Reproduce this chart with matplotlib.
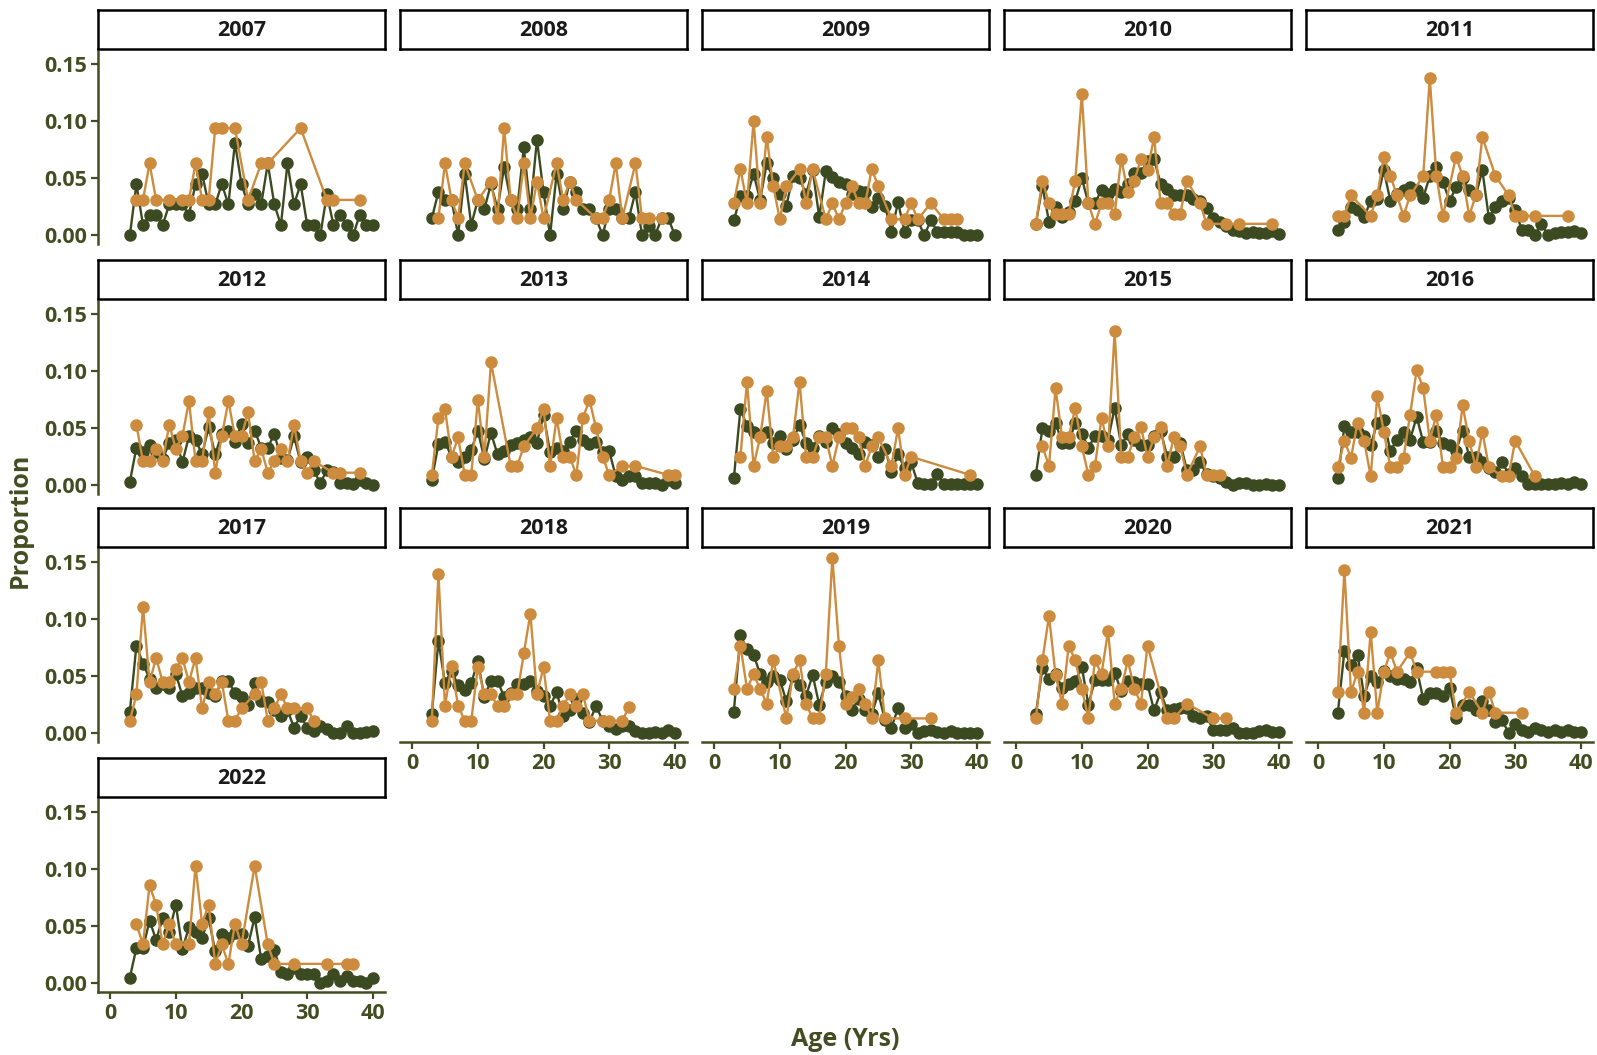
import matplotlib
matplotlib.use('Agg')
import matplotlib.pyplot as plt

# ages 3..40 for the green series; orange series only where fish were aged
ages = list(range(3, 41))
years = list(range(2007, 2023))

g2007 = [0.000, 0.045, 0.009, 0.018, 0.018, 0.009, 0.027, 0.027, 0.027, 0.018, 0.045, 0.054, 0.027, 0.027, 0.045, 0.027, 0.081, 0.045, 0.027, 0.036,
         0.027, 0.063, 0.027, 0.009, 0.063, 0.027, 0.045, 0.009, 0.009, 0.000, 0.036, 0.009, 0.018, 0.009, 0.000, 0.018, 0.009, 0.009]
o2007_x = [4, 5, 6, 7, 9, 11, 12, 13, 14, 15, 16, 17, 19, 21, 23, 24, 29, 33, 34, 38]
o2007 = [0.031, 0.031, 0.063, 0.031, 0.031, 0.031, 0.031, 0.063, 0.031, 0.031, 0.094, 0.094, 0.094, 0.031, 0.063, 0.063, 0.094, 0.031, 0.031, 0.031]

g2008 = [0.015, 0.038, 0.031, 0.031, 0.000, 0.054, 0.009, 0.031, 0.023, 0.045, 0.023, 0.060, 0.031, 0.023, 0.077, 0.023, 0.084, 0.038, 0.000, 0.054,
         0.023, 0.047, 0.038, 0.023, 0.023, 0.015, 0.000, 0.023, 0.023, 0.015, 0.015, 0.038, 0.000, 0.008, 0.000, 0.015, 0.015, 0.000]
o2008_x = [4, 5, 6, 7, 8, 10, 12, 13, 14, 15, 16, 17, 18, 19, 20, 22, 23, 24, 25, 28, 29, 30, 31, 32, 34, 35, 36, 38]
o2008 = [0.015, 0.063, 0.031, 0.015, 0.063, 0.031, 0.047, 0.015, 0.094, 0.031, 0.015, 0.063, 0.015, 0.047, 0.015, 0.063, 0.031, 0.047, 0.031, 0.015,
         0.015, 0.031, 0.063, 0.015, 0.063, 0.015, 0.015, 0.015]

g2009 = [0.013, 0.034, 0.034, 0.054, 0.031, 0.063, 0.050, 0.036, 0.026, 0.052, 0.050, 0.036, 0.057, 0.016, 0.056, 0.051, 0.047, 0.045, 0.036, 0.039,
         0.038, 0.025, 0.033, 0.026, 0.003, 0.029, 0.003, 0.013, 0.013, 0.000, 0.013, 0.003, 0.003, 0.003, 0.003, 0.000, 0.000, 0.000]
o2009_x = [3, 4, 5, 6, 7, 8, 9, 10, 11, 13, 14, 15, 17, 18, 19, 20, 21, 22, 23, 24, 25, 27, 29, 30, 31, 33, 35, 36, 37]
o2009 = [0.028, 0.058, 0.028, 0.100, 0.028, 0.086, 0.043, 0.014, 0.043, 0.058, 0.028, 0.058, 0.014, 0.028, 0.014, 0.028, 0.043, 0.028, 0.028, 0.058,
         0.043, 0.014, 0.014, 0.028, 0.014, 0.028, 0.014, 0.014, 0.014]

g2010 = [0.010, 0.043, 0.012, 0.025, 0.016, 0.020, 0.030, 0.050, 0.028, 0.028, 0.040, 0.036, 0.041, 0.038, 0.045, 0.055, 0.055, 0.065, 0.067, 0.045,
         0.041, 0.035, 0.035, 0.035, 0.032, 0.030, 0.024, 0.015, 0.012, 0.008, 0.005, 0.004, 0.002, 0.003, 0.002, 0.002, 0.004, 0.001]
o2010_x = [3, 4, 5, 6, 7, 8, 9, 10, 11, 12, 13, 14, 15, 16, 17, 18, 19, 20, 21, 22, 23, 24, 25, 26, 28, 29, 32, 34, 39]
o2010 = [0.010, 0.048, 0.028, 0.019, 0.019, 0.019, 0.048, 0.124, 0.028, 0.010, 0.028, 0.028, 0.019, 0.067, 0.038, 0.048, 0.067, 0.057, 0.086, 0.028,
         0.028, 0.019, 0.019, 0.048, 0.028, 0.010, 0.010, 0.010, 0.010]

g2011 = [0.005, 0.012, 0.025, 0.022, 0.016, 0.030, 0.032, 0.057, 0.030, 0.036, 0.040, 0.042, 0.040, 0.033, 0.052, 0.060, 0.047, 0.030, 0.042, 0.050,
         0.040, 0.035, 0.057, 0.015, 0.025, 0.030, 0.033, 0.022, 0.005, 0.005, 0.000, 0.010, 0.000, 0.002, 0.003, 0.003, 0.004, 0.002]
o2011_x = [3, 4, 5, 8, 9, 10, 11, 12, 13, 14, 16, 17, 18, 19, 21, 22, 23, 24, 25, 27, 29, 30, 31, 33, 38]
o2011 = [0.017, 0.017, 0.035, 0.017, 0.035, 0.069, 0.052, 0.035, 0.017, 0.035, 0.052, 0.138, 0.052, 0.017, 0.069, 0.052, 0.017, 0.035, 0.086, 0.052,
         0.035, 0.017, 0.017, 0.017, 0.017]

g2012 = [0.003, 0.033, 0.029, 0.035, 0.029, 0.023, 0.037, 0.040, 0.020, 0.043, 0.040, 0.027, 0.051, 0.027, 0.045, 0.048, 0.038, 0.054, 0.037, 0.048,
         0.033, 0.033, 0.045, 0.024, 0.022, 0.043, 0.020, 0.025, 0.013, 0.002, 0.013, 0.012, 0.002, 0.002, 0.001, 0.005, 0.002, 0.000]
o2012_x = [4, 5, 6, 7, 8, 9, 10, 11, 12, 13, 14, 15, 16, 17, 18, 19, 20, 21, 22, 23, 24, 25, 26, 27, 28, 29, 30, 31, 34, 35, 38]
o2012 = [0.053, 0.021, 0.021, 0.032, 0.021, 0.053, 0.032, 0.043, 0.074, 0.021, 0.021, 0.064, 0.011, 0.043, 0.074, 0.043, 0.043, 0.064, 0.021, 0.032,
         0.011, 0.021, 0.032, 0.021, 0.053, 0.021, 0.011, 0.021, 0.011, 0.011, 0.011]

g2013 = [0.005, 0.036, 0.038, 0.025, 0.020, 0.025, 0.031, 0.048, 0.023, 0.046, 0.027, 0.030, 0.035, 0.037, 0.040, 0.042, 0.037, 0.062, 0.029, 0.033,
         0.030, 0.038, 0.048, 0.040, 0.036, 0.038, 0.029, 0.030, 0.008, 0.005, 0.008, 0.008, 0.002, 0.002, 0.002, 0.000, 0.005, 0.002]
o2013_x = [3, 4, 5, 6, 7, 8, 9, 10, 11, 12, 15, 16, 17, 19, 20, 21, 22, 23, 24, 25, 26, 27, 28, 29, 30, 32, 34, 39, 40]
o2013 = [0.009, 0.059, 0.067, 0.025, 0.042, 0.009, 0.009, 0.075, 0.025, 0.108, 0.017, 0.017, 0.034, 0.050, 0.067, 0.017, 0.059, 0.025, 0.025, 0.009,
         0.059, 0.075, 0.050, 0.025, 0.009, 0.017, 0.017, 0.009, 0.009]

g2014 = [0.006, 0.067, 0.052, 0.047, 0.043, 0.047, 0.037, 0.043, 0.032, 0.040, 0.053, 0.037, 0.033, 0.043, 0.038, 0.050, 0.045, 0.037, 0.033, 0.027,
         0.038, 0.035, 0.025, 0.032, 0.012, 0.027, 0.015, 0.020, 0.002, 0.001, 0.001, 0.010, 0.001, 0.001, 0.001, 0.001, 0.001, 0.001]
o2014_x = [4, 5, 6, 7, 8, 9, 10, 11, 12, 13, 14, 15, 16, 17, 18, 19, 20, 21, 22, 23, 24, 25, 27, 28, 29, 30, 39]
o2014 = [0.025, 0.091, 0.017, 0.042, 0.083, 0.025, 0.034, 0.034, 0.042, 0.091, 0.025, 0.025, 0.042, 0.042, 0.017, 0.042, 0.050, 0.050, 0.042, 0.017,
         0.034, 0.042, 0.017, 0.050, 0.009, 0.025, 0.009]

g2015 = [0.009, 0.050, 0.048, 0.055, 0.037, 0.037, 0.055, 0.045, 0.033, 0.043, 0.043, 0.040, 0.068, 0.035, 0.045, 0.040, 0.035, 0.035, 0.043, 0.048,
         0.025, 0.025, 0.037, 0.013, 0.013, 0.020, 0.010, 0.008, 0.006, 0.003, 0.000, 0.002, 0.002, 0.000, 0.000, 0.001, 0.000, 0.000]
o2015_x = [4, 5, 6, 7, 8, 9, 10, 11, 12, 13, 14, 15, 16, 17, 18, 19, 20, 21, 22, 23, 24, 25, 26, 28, 29, 30, 31]
o2015 = [0.034, 0.017, 0.085, 0.042, 0.042, 0.068, 0.034, 0.009, 0.017, 0.059, 0.034, 0.135, 0.025, 0.025, 0.042, 0.051, 0.025, 0.042, 0.051, 0.017,
         0.042, 0.034, 0.009, 0.034, 0.009, 0.009, 0.009]

g2016 = [0.006, 0.052, 0.047, 0.047, 0.043, 0.035, 0.055, 0.057, 0.030, 0.040, 0.047, 0.040, 0.060, 0.038, 0.038, 0.048, 0.037, 0.035, 0.030, 0.048,
         0.025, 0.025, 0.020, 0.015, 0.012, 0.020, 0.010, 0.015, 0.008, 0.001, 0.001, 0.001, 0.001, 0.001, 0.002, 0.001, 0.003, 0.001]
o2016_x = [3, 4, 5, 6, 7, 8, 9, 10, 11, 12, 13, 14, 15, 16, 17, 18, 19, 20, 21, 22, 23, 24, 25, 26, 28, 29, 30, 33]
o2016 = [0.016, 0.039, 0.024, 0.055, 0.039, 0.008, 0.078, 0.047, 0.016, 0.016, 0.024, 0.062, 0.101, 0.085, 0.039, 0.062, 0.016, 0.016, 0.024, 0.070,
         0.039, 0.016, 0.047, 0.016, 0.008, 0.008, 0.039, 0.008]

g2017 = [0.019, 0.077, 0.061, 0.048, 0.040, 0.043, 0.040, 0.052, 0.033, 0.035, 0.040, 0.040, 0.035, 0.033, 0.046, 0.046, 0.035, 0.032, 0.025, 0.044,
         0.028, 0.027, 0.020, 0.015, 0.020, 0.005, 0.015, 0.005, 0.002, 0.006, 0.004, 0.000, 0.000, 0.006, 0.000, 0.000, 0.001, 0.002]
o2017_x = [3, 4, 5, 6, 7, 8, 9, 10, 11, 12, 13, 14, 15, 16, 17, 18, 19, 20, 22, 23, 24, 25, 26, 27, 28, 30, 31]
o2017 = [0.011, 0.034, 0.111, 0.045, 0.066, 0.045, 0.045, 0.056, 0.066, 0.045, 0.066, 0.022, 0.045, 0.034, 0.045, 0.011, 0.011, 0.022, 0.034, 0.045,
         0.011, 0.022, 0.034, 0.022, 0.022, 0.022, 0.011]

g2018 = [0.017, 0.081, 0.044, 0.055, 0.042, 0.038, 0.044, 0.063, 0.032, 0.046, 0.046, 0.032, 0.035, 0.043, 0.043, 0.046, 0.037, 0.033, 0.024, 0.036,
         0.015, 0.020, 0.030, 0.018, 0.010, 0.024, 0.011, 0.006, 0.004, 0.006, 0.006, 0.002, 0.000, 0.000, 0.001, 0.000, 0.003, 0.000]
o2018_x = [3, 4, 5, 6, 7, 8, 9, 10, 11, 12, 13, 14, 15, 16, 17, 18, 19, 20, 21, 22, 23, 24, 25, 26, 27, 29, 30, 32, 33]
o2018 = [0.011, 0.140, 0.024, 0.059, 0.024, 0.011, 0.011, 0.058, 0.034, 0.034, 0.024, 0.024, 0.034, 0.034, 0.070, 0.105, 0.034, 0.058, 0.011, 0.011,
         0.024, 0.034, 0.024, 0.034, 0.011, 0.011, 0.011, 0.011, 0.023]

g2019 = [0.019, 0.086, 0.074, 0.069, 0.052, 0.045, 0.050, 0.047, 0.028, 0.050, 0.042, 0.033, 0.051, 0.025, 0.045, 0.050, 0.045, 0.033, 0.020, 0.030,
         0.020, 0.017, 0.035, 0.012, 0.005, 0.022, 0.005, 0.008, 0.000, 0.002, 0.003, 0.001, 0.000, 0.002, 0.000, 0.000, 0.000, 0.000]
o2019_x = [3, 4, 5, 6, 7, 8, 9, 11, 12, 13, 14, 15, 16, 17, 18, 19, 20, 21, 22, 23, 24, 25, 26, 29, 33]
o2019 = [0.039, 0.077, 0.039, 0.052, 0.039, 0.026, 0.064, 0.013, 0.052, 0.064, 0.026, 0.013, 0.013, 0.052, 0.154, 0.077, 0.026, 0.032, 0.039, 0.026,
         0.013, 0.064, 0.013, 0.013, 0.013]

g2020 = [0.017, 0.057, 0.048, 0.052, 0.040, 0.043, 0.046, 0.058, 0.025, 0.047, 0.047, 0.047, 0.053, 0.037, 0.046, 0.045, 0.043, 0.043, 0.020, 0.036,
         0.020, 0.021, 0.022, 0.022, 0.015, 0.013, 0.015, 0.003, 0.003, 0.003, 0.005, 0.000, 0.000, 0.000, 0.002, 0.003, 0.001, 0.001]
o2020_x = [3, 4, 5, 6, 7, 8, 9, 10, 11, 12, 13, 14, 15, 16, 17, 18, 19, 20, 23, 24, 26, 30, 32]
o2020 = [0.013, 0.064, 0.103, 0.051, 0.026, 0.077, 0.064, 0.039, 0.013, 0.064, 0.052, 0.090, 0.026, 0.039, 0.064, 0.039, 0.026, 0.077, 0.013, 0.013,
         0.026, 0.013, 0.013]

g2021 = [0.018, 0.072, 0.060, 0.069, 0.033, 0.050, 0.045, 0.055, 0.050, 0.048, 0.048, 0.045, 0.057, 0.030, 0.035, 0.035, 0.033, 0.040, 0.013, 0.025,
         0.025, 0.020, 0.028, 0.020, 0.010, 0.012, 0.000, 0.008, 0.003, 0.001, 0.005, 0.003, 0.001, 0.003, 0.001, 0.003, 0.001, 0.001]
o2021_x = [3, 4, 5, 6, 7, 8, 9, 10, 11, 12, 14, 15, 18, 19, 20, 21, 23, 25, 26, 27, 31]
o2021 = [0.036, 0.143, 0.036, 0.054, 0.018, 0.089, 0.018, 0.054, 0.071, 0.054, 0.071, 0.054, 0.054, 0.054, 0.054, 0.018, 0.036, 0.018, 0.036, 0.018,
         0.018]

g2022 = [0.005, 0.031, 0.031, 0.055, 0.038, 0.057, 0.045, 0.069, 0.030, 0.049, 0.045, 0.040, 0.057, 0.028, 0.043, 0.040, 0.044, 0.043, 0.033, 0.058,
         0.021, 0.024, 0.029, 0.010, 0.008, 0.013, 0.008, 0.008, 0.008, 0.000, 0.002, 0.008, 0.002, 0.006, 0.002, 0.002, 0.000, 0.005]
o2022_x = [4, 5, 6, 7, 8, 9, 10, 12, 13, 14, 15, 16, 17, 18, 19, 20, 22, 24, 25, 28, 33, 36, 37]
o2022 = [0.052, 0.034, 0.086, 0.069, 0.034, 0.052, 0.034, 0.034, 0.103, 0.052, 0.069, 0.017, 0.034, 0.017, 0.052, 0.034, 0.103, 0.034, 0.017, 0.017,
         0.017, 0.017, 0.017]

green = [g2007, g2008, g2009, g2010, g2011, g2012, g2013, g2014, g2015, g2016, g2017, g2018, g2019, g2020, g2021, g2022]
orange_x = [o2007_x, o2008_x, o2009_x, o2010_x, o2011_x, o2012_x, o2013_x, o2014_x, o2015_x, o2016_x, o2017_x, o2018_x,
            o2019_x, o2020_x, o2021_x, o2022_x]
orange = [o2007, o2008, o2009, o2010, o2011, o2012, o2013, o2014, o2015, o2016, o2017, o2018, o2019, o2020, o2021, o2022]

GREEN = '#3c4a21'
ORANGE = '#cd8b3e'
OLIVE = '#434d22'

plt.rcParams['font.family'] = ['Open Sans', 'DejaVu Sans']
plt.rcParams['font.weight'] = 'bold'

W, H = 1597, 1055
fig = plt.figure(figsize=(W / 100, H / 100), dpi=100)


def px_axes(left, top, width, height):
    return fig.add_axes([left / W, 1 - (top + height) / H, width / W, height / H])


col_left = [98, 400, 702, 1004, 1306]
row_top = [10, 260, 508, 758]
pw, strip_h, ph = 287, 39, 193

for i, yr in enumerate(years):
    r, c = divmod(i, 5)
    left, top = col_left[c], row_top[r]

    st = px_axes(left, top, pw, strip_h)
    st.set_xticks([])
    st.set_yticks([])
    for s in st.spines.values():
        s.set_linewidth(1.8)
        s.set_color('black')
    st.text(0.5, 0.47, str(yr), ha='center', va='center', fontsize=15.5, fontweight='bold', color='#1a1a1a',
            transform=st.transAxes)

    ax = px_axes(left, top + strip_h + 2, pw, ph)
    ax.plot(ages, green[i], '-', color=GREEN, linewidth=1.7, marker='o', markersize=8, zorder=2)
    ax.plot(orange_x[i], orange[i], '-', color=ORANGE, linewidth=1.7, marker='o', markersize=8, zorder=3)
    ax.set_xlim(-1.85, 41.85)
    ax.set_ylim(-0.0077, 0.1617)
    ax.patch.set_alpha(0)
    for s in ['top', 'right']:
        ax.spines[s].set_visible(False)

    show_y = (c == 0)
    show_x = (r == 3) or (r == 2 and c > 0)
    ax.spines['left'].set_visible(show_y)
    ax.spines['bottom'].set_visible(show_x)
    for s in ['left', 'bottom']:
        ax.spines[s].set_color(OLIVE)
        ax.spines[s].set_linewidth(1.8)
    ax.tick_params(colors=OLIVE, width=1.6, length=5, labelsize=15.5, pad=3)
    if show_y:
        ax.set_yticks([0.0, 0.05, 0.10, 0.15])
        ax.set_yticklabels(['0.00', '0.05', '0.10', '0.15'], fontweight='bold', color=OLIVE)
    else:
        ax.set_yticks([])
    if show_x:
        ax.set_xticks([0, 10, 20, 30, 40])
        ax.set_xticklabels(['0', '10', '20', '30', '40'], fontweight='bold', color=OLIVE)
    else:
        ax.set_xticks([])

fig.text(20 / W, 1 - 520 / H, 'Proportion', rotation=90, ha='center', va='center', fontsize=18,
         fontweight='bold', color=OLIVE)
fig.text(845 / W, 1 - 1040 / H, 'Age (Yrs)', ha='center', va='center', fontsize=18,
         fontweight='bold', color=OLIVE)

fig.savefig('out.png', dpi=100)
